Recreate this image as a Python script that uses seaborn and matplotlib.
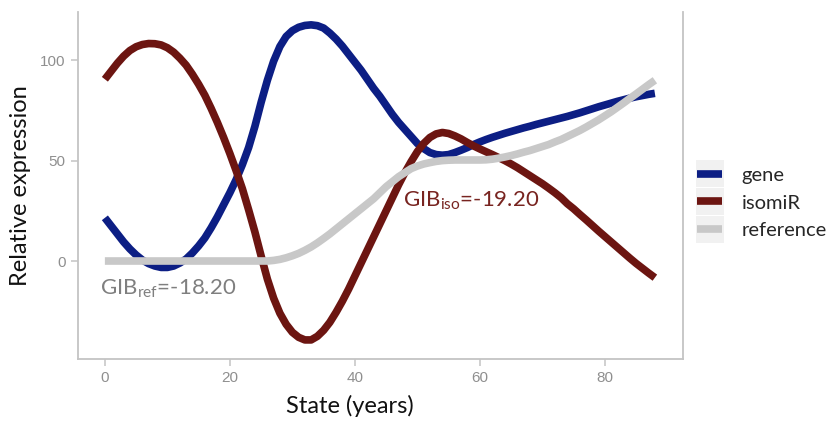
import matplotlib
matplotlib.use("Agg")
import matplotlib.pyplot as plt
from matplotlib.patches import Rectangle
import pandas as pd
import seaborn as sns

# Fitted expression trajectories, one value per year of age
years = list(range(0, 89))
gene = [21.5, 17.5, 13.5, 9.5, 6.0, 3.0, 0.5, -1.3, -2.5, -3.2,
        -3.2, -2.5, -1.0, 1.0, 4.0, 7.5, 11.5, 16.5, 22.0, 28.0,
        34.0, 40.5, 48.0, 56.5, 67.0, 79.0, 90.0, 99.5, 106.8, 111.8,
        114.7, 116.4, 117.3, 117.6, 117.2, 116.0, 113.5, 110.5, 107.0, 103.0,
        99.0, 95.0, 90.5, 86.0, 82.0, 77.5, 73.0, 69.0, 65.5, 62.0,
        58.5, 56.0, 54.0, 53.0, 52.7, 53.0, 54.0, 55.2, 56.5, 58.0,
        59.3, 60.5, 61.6, 62.6, 63.6, 64.5, 65.4, 66.3, 67.1, 68.0,
        68.8, 69.6, 70.4, 71.2, 72.0, 72.9, 73.8, 74.8, 75.8, 76.8,
        77.7, 78.6, 79.5, 80.3, 81.1, 81.8, 82.4, 83.0, 83.5]
isomir = [90.5, 94.5, 98.5, 102.0, 104.8, 106.7, 107.8, 108.3, 108.2, 107.6,
          106.2, 104.0, 101.0, 97.5, 93.0, 88.0, 82.5, 76.0, 69.0, 61.5,
          53.5, 45.0, 36.0, 25.5, 14.5, 2.5, -9.0, -18.5, -26.0, -31.5,
          -35.5, -38.0, -39.3, -39.3, -37.5, -34.5, -30.5, -25.5, -20.0, -14.0,
          -7.5, -1.0, 5.5, 12.0, 18.5, 25.0, 31.5, 38.0, 44.0, 49.5,
          54.5, 58.5, 61.5, 63.3, 64.0, 63.5, 62.3, 60.8, 59.0, 57.3,
          55.8, 54.4, 53.0, 51.5, 50.0, 48.3, 46.5, 44.5, 42.5, 40.5,
          38.5, 36.3, 34.0, 31.5, 28.5, 26.0, 23.2, 20.5, 17.7, 14.9,
          12.2, 9.5, 6.8, 4.1, 1.4, -1.2, -3.6, -6.0, -8.3]
reference = [0.0, 0.0, 0.0, 0.0, 0.0, 0.0, 0.0, 0.0, 0.0, 0.0,
             0.0, 0.0, 0.0, 0.0, 0.0, 0.0, 0.0, 0.0, 0.0, 0.0,
             0.0, 0.0, 0.0, 0.0, 0.0, 0.0, 0.0, 0.3, 0.8, 1.6,
             2.6, 3.8, 5.3, 7.0, 9.0, 11.2, 13.5, 16.0, 18.5, 21.0,
             23.5, 26.0, 28.5, 31.0, 34.0, 37.0, 39.5, 42.0, 44.0, 46.0,
             47.3, 48.3, 49.0, 49.6, 50.0, 50.2, 50.3, 50.3, 50.3, 50.3,
             50.3, 50.4, 50.7, 51.2, 51.8, 52.5, 53.3, 54.2, 55.0, 56.0,
             57.0, 58.0, 59.3, 60.5, 62.0, 63.5, 65.0, 66.7, 68.5, 70.3,
             72.3, 74.3, 76.5, 78.7, 81.0, 83.2, 85.5, 87.8, 90.0]

series_names = ["gene", "isomiR", "reference"]
colors = {"gene": "#0c1e84", "isomiR": "#6c1511", "reference": "#c8c8c8"}
x_ticks = [0, 20, 40, 60, 80]
y_ticks = [0, 50, 100]

gib_ref_label = "GIB$_{\\mathrm{ref}}$=-18.20"
gib_iso_label = "GIB$_{\\mathrm{iso}}$=-19.20"

df = pd.DataFrame({
    "year": years * 3,
    "value": gene + isomir + reference,
    "series": [s for s, vals in zip(series_names, [gene, isomir, reference])
               for _ in vals],
})

sns.set_theme(style="white")
plt.rcParams["font.family"] = ["Lato", "DejaVu Sans"]
plt.rcParams["mathtext.fontset"] = "custom"
plt.rcParams["mathtext.rm"] = "Lato"
plt.rcParams["mathtext.it"] = "Lato:italic"

fig = plt.figure(figsize=(8.33, 4.25), dpi=100)
ax = fig.add_axes([78 / 833, 66 / 425, 605 / 833, 347 / 425])

sns.lineplot(data=df, x="year", y="value", hue="series",
             hue_order=series_names, palette=colors, linewidth=5.5,
             solid_capstyle="butt", solid_joinstyle="round", ax=ax)

ax.set_xlim(-4.3, 92.5)
ax.set_ylim(-48.8, 124)
ax.set_xticks(x_ticks)
ax.set_yticks(y_ticks)

for side in ["left", "bottom", "right"]:
    ax.spines[side].set_color("#c4c4c4")
    ax.spines[side].set_linewidth(1.3)
ax.spines["top"].set_visible(False)

ax.tick_params(axis="both", bottom=True, left=True, length=5, width=1.1,
               color="#c4c4c4", labelcolor="#8f8f8f", labelsize=11, pad=4)
for lab in ax.get_xticklabels() + ax.get_yticklabels():
    lab.set_fontfamily("Liberation Sans")

ax.set_xlabel("State (years)", fontsize=17, color="#111111")
ax.set_ylabel("Relative expression", fontsize=17, color="#111111")
ax.xaxis.set_label_coords(0.45, -0.104)
ax.yaxis.set_label_coords(-0.078, 0.5)

ax.text(-0.8, -17.0, gib_ref_label, color="#7f7f7f", fontsize=16,
        va="baseline", ha="left")
ax.text(47.7, 27.0, gib_iso_label, color="#782420", fontsize=16,
        va="baseline", ha="left")

handles, labels = ax.get_legend_handles_labels()
leg = ax.legend(handles, labels, loc="center left",
                bbox_to_anchor=(689 / 833, (425 - 203) / 425),
                bbox_transform=fig.transFigure, frameon=False, fontsize=14.5,
                handlelength=1.25, handletextpad=0.95, labelspacing=0.52,
                borderaxespad=0.0)
for line in leg.get_lines():
    line.set_linewidth(5.5)
    line.set_solid_capstyle("butt")

# light key backgrounds behind each legend swatch
fig.canvas.draw()
renderer = fig.canvas.get_renderer()
W, H = fig.bbox.width, fig.bbox.height
for line in leg.get_lines():
    bb = line.get_window_extent(renderer)
    cx = (bb.x0 + bb.x1) / 2
    cy = (bb.y0 + bb.y1) / 2
    w, h = 28, 27
    rect = Rectangle(((cx - w / 2) / W, (cy - h / 2) / H), w / W, h / H,
                     transform=fig.transFigure, facecolor="#f1f1f1",
                     edgecolor="none", clip_on=False, zorder=4)
    ax.add_patch(rect)

fig.savefig("out.png", dpi=100)
